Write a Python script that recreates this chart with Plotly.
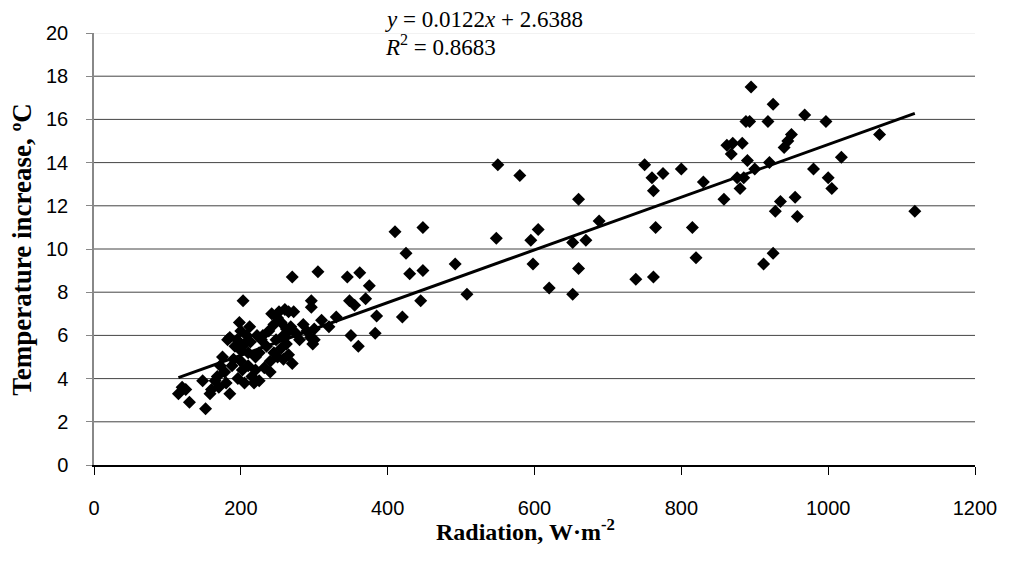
import plotly.graph_objects as go

radiation = [
    115, 120, 125, 130, 148, 152, 158, 160, 165, 168, 170, 172, 175, 178, 180, 182, 185, 185,
    188, 190, 192, 195, 196, 198, 200, 200, 200, 202, 203, 205, 205, 208, 210, 210, 212, 213,
    215, 218, 220, 220, 222, 225, 225, 228, 230, 232, 235, 238, 240, 240, 242, 245, 245, 248,
    250, 250, 252, 255, 255, 258, 258, 260, 262, 265, 265, 268, 272, 275, 280, 285, 295, 300,
    300, 260, 262, 265, 270, 270, 290, 296, 296, 298, 305, 310, 320, 330, 345, 348, 350, 355,
    360, 362, 370, 375, 383, 385, 410, 420, 425, 430, 445, 448, 448, 492, 508, 548, 550, 580,
    595, 598, 605, 620, 652, 652, 660, 660, 670, 688, 738, 750, 762, 760, 762, 765, 775, 800,
    815, 820, 830, 858, 862, 868, 870, 876, 883, 880, 885, 890, 888, 893, 895, 900, 912, 918,
    920, 925, 925, 928, 935, 940, 945, 950, 955, 958, 968, 980, 997, 1000, 1005, 1018, 1070, 1118,
]
temperature = [
    3.3, 3.6, 3.5, 2.9, 3.9, 2.6, 3.3, 3.5, 3.9, 4.1, 3.6, 4.6, 5.0, 4.3, 3.8, 5.8, 5.9, 3.3,
    4.6, 4.9, 5.5, 5.8, 4.0, 6.6, 6.2, 5.3, 4.8, 4.4, 7.6, 3.8, 5.6, 6.0, 5.2, 4.6, 6.4, 5.7,
    4.1, 3.8, 5.0, 4.4, 6.0, 5.2, 3.9, 5.8, 6.0, 4.5, 5.5, 6.2, 4.8, 4.3, 7.0, 6.5, 5.2, 5.8,
    6.8, 5.0, 7.1, 6.6, 5.4, 4.9, 6.0, 7.2, 5.6, 6.2, 5.1, 6.4, 7.1, 6.1, 5.8, 6.5, 5.9, 6.3,
    5.8, 5.9, 6.3, 7.1, 8.7, 4.7, 6.2, 7.3, 7.6, 5.6, 8.95, 6.7, 6.4, 6.85, 8.7, 7.6, 6.0, 7.4,
    5.5, 8.9, 7.7, 8.3, 6.1, 6.9, 10.8, 6.85, 9.8, 8.85, 7.6, 9.0, 11.0, 9.3, 7.9, 10.5, 13.9, 13.4,
    10.4, 9.3, 10.9, 8.2, 10.3, 7.9, 12.3, 9.1, 10.4, 11.3, 8.6, 13.9, 12.7, 13.3, 8.7, 11.0, 13.5, 13.7,
    11.0, 9.6, 13.1, 12.3, 14.8, 14.4, 14.9, 13.3, 14.9, 12.8, 13.3, 14.1, 15.9, 15.9, 17.5, 13.7, 9.3, 15.9,
    14.0, 9.8, 16.7, 11.75, 12.2, 14.7, 15.0, 15.3, 12.4, 11.5, 16.2, 13.7, 15.9, 13.3, 12.8, 14.25, 15.3, 11.75,
]

slope = 0.0122
intercept = 2.6388
trend_x = [min(radiation), max(radiation)]
trend_y = [slope * v + intercept for v in trend_x]

x_ticks = [0, 200, 400, 600, 800, 1000, 1200]
y_ticks = [0, 2, 4, 6, 8, 10, 12, 14, 16, 18, 20]
grid_levels = [2, 4, 6, 8, 10, 12, 14, 16, 18]

fig = go.Figure()
fig.add_trace(go.Scatter(
    x=radiation, y=temperature, mode="markers",
    marker=dict(symbol="diamond", size=10, color="black", line=dict(width=0)),
    showlegend=False, hoverinfo="skip",
))
fig.add_trace(go.Scatter(
    x=trend_x, y=trend_y, mode="lines",
    line=dict(color="black", width=3),
    showlegend=False, hoverinfo="skip",
))

shapes = []
for g in grid_levels:
    shapes.append(dict(type="line", xref="paper", x0=0, x1=1, yref="y", y0=g, y1=g,
                       line=dict(color="#444444", width=1), layer="below"))
shapes.append(dict(type="line", xref="paper", x0=0, x1=1, yref="y", y0=20, y1=20,
                   line=dict(color="#e6e6e6", width=1), layer="below"))

fig.update_layout(
    width=1001, height=555,
    margin=dict(l=86, r=28, t=25, b=98),
    plot_bgcolor="white", paper_bgcolor="white",
    font=dict(family="Liberation Sans, Arial", size=20, color="black"),
    shapes=shapes,
    xaxis=dict(
        range=[0, 1200], tickvals=x_ticks, showgrid=False, zeroline=False,
        showline=True, linecolor="black", linewidth=1.5,
        ticks="outside", ticklen=8, tickcolor="black",
        ticklabelstandoff=16,
        tickfont=dict(size=20), fixedrange=True,
    ),
    yaxis=dict(
        range=[0, 20], tickvals=y_ticks, showgrid=False, zeroline=False,
        showline=True, linecolor="#888888", linewidth=1.5,
        ticks="outside", ticklen=6, tickcolor="#888888",
        ticklabelstandoff=14,
        tickfont=dict(size=20), fixedrange=True,
    ),
    annotations=[
        dict(text="<b>Radiation, W·m<sup>-2</sup></b>", xref="paper", yref="paper",
             x=0.49, y=-0.15, xanchor="center", yanchor="middle", showarrow=False,
             font=dict(family="Liberation Serif, Times New Roman", size=24)),
        dict(text="<b>Temperature increase, ºC</b>", xref="paper", yref="paper",
             x=-0.082, y=0.5, xanchor="center", yanchor="middle", textangle=-90,
             showarrow=False,
             font=dict(family="Liberation Serif, Times New Roman", size=27)),
        dict(text="<i>y</i> = 0.0122<i>x</i> + 2.6388", xref="paper", yref="paper",
             x=0.328, y=1.032, xanchor="left", yanchor="middle", showarrow=False,
             font=dict(family="Liberation Serif, Times New Roman", size=23)),
        dict(text="<i>R</i><sup>2</sup> = 0.8683", xref="paper", yref="paper",
             x=0.328, y=0.97, xanchor="left", yanchor="middle", showarrow=False,
             font=dict(family="Liberation Serif, Times New Roman", size=23)),
    ],
)

fig.write_html("out.html")
